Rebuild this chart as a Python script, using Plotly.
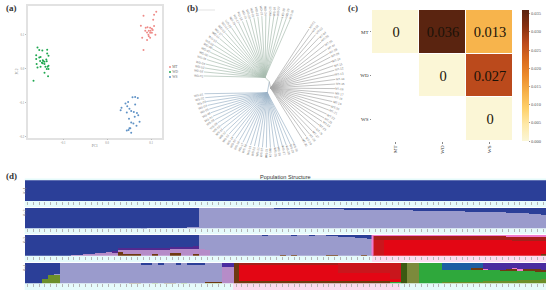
import math
import plotly.graph_objects as go

W, H = 550, 296
SERIF = "Liberation Serif"
SANS = "Liberation Sans"

# ---- panel (a): PCA
pca_groups = ["MT", "WD", "WS"]
mt_pc1 = [.083,.107,.112,.105,.077,.107,.088,.092,.098,.102,.087,.095,.099,.104,.091,.098,.102,.094,.110,.080,.095,.091,.098,.083]
mt_pc2 = [.156,.159,.168,.144,.127,.126,.121,.122,.121,.118,.112,.112,.112,.114,.107,.106,.106,.100,.100,.091,.096,.085,.091,.055]
wd_pc1 = [-.158,-.154,-.147,-.136,-.161,-.136,-.133,-.161,-.151,-.146,-.138,-.152,-.148,-.142,-.137,-.160,-.146,-.142,-.133,-.158,-.151,-.140,-.137,-.133,-.142,-.134,-.167,-.135,-.145,-.154]
wd_pc2 = [.063,.055,.054,.056,.040,.045,.038,.029,.035,.025,.027,.023,.018,.021,.022,.014,.016,.014,.009,.004,.006,.006,-.001,-.001,-.012,-.022,-.035,.006,.023,.033]
ws_pc1 = [.058,.064,.070,.048,.042,.064,.033,.046,.051,.055,.061,.068,.045,.071,.063,.050,.074,.055,.060,.067,.053,.049,.045,.055,.051,.031]
ws_pc2 = [-.084,-.083,-.086,-.098,-.102,-.105,-.115,-.110,-.118,-.124,-.127,-.130,-.129,-.137,-.141,-.147,-.156,-.158,-.161,-.168,-.175,-.180,-.182,-.188,-.175,-.122]
pca_colors = ["#ee8b88", "#1fa850", "#5f92c6"]

# ---- panel (b): tree leaf angles, degrees
wd_angles = [175.0,171.5,168.0,164.5,160.5,157.0,153.5,150.0,146.5,143.0,139.0,135.5,132.0,128.5,125.0,121.0,117.5,114.0,110.5,107.0,103.5,100.0,96.5,93.0,89.5,86.0,82.5,78.5,75.0,71.5]
mt_angles = [53,49,45.5,41.5,37.5,33.5,29.5,25.5,22,18,14,10,6,2,-2,-6,-10,-13.5,-17.5,-21.5,-25.5,-29.5,-33.5,-37,-41,-45,-49,-52.5,-56,-60]
ws_angles = [190.5,194,197.5,201,204.5,208,211.5,215,218.5,222,225.5,229,232.5,236,239.5,243,246.5,250,253.5,257,260.5,264,267.5,271,274.5,278,281.5,285,288.5,292]

# ---- panel (c): Fst
fst_labels = ["MT", "WD", "WS"]
fst_values = [[0, .036, .013], [None, 0, .027], [None, None, 0]]
fst_text = [["0", "0.036", "0.013"], ["", "0", "0.027"], ["", "", "0"]]
fst_ticks = [0, .005, .010, .015, .020, .025, .030, .035]

# ---- panel (d): structure, share of each sample
N = 90
k1_blue = [1]*N

k2_light = [0]*20 + [.003,.006,.01,.015,.02,.03,.04,.05,.07,.1] + [1]*13 + \
    [.995,.995,.99,.99,.985,.98,.98,.975,.97,.965,.96,.955,.95,.94,.93] + \
    [.92,.915,.91,.905,.9,.895,.89,.885,.88,.875,.87,.865,.86,.855,.85,.845,.84,.835,.83,.825,.82,.815,.81,.80,.79,.78,.77,.76,.74,.72,.70,.66]

k3_brown = [0]*16 + [.16,.06,.06,.06,0,0,.08,0,0,.14,.14,0,0,.08] + [0]*14 + [.02,0,.02] + [0]*5 + [.03,.03] + [0]*4 + [.03,0] + [0]*29 + [.08]
k3_mauve = [0]*8 + [.01,.03,.06,.09,.12,.15,.18,.16,.12,.2,.2,.2,.26,.26,.2,.28,.28,.18,.18,.32,.32,.26] + [.3,.28] + [0]*58
k3_deep = [0]*15 + [.08,.1,.1,.1,.1,.1,.1,.11,.11,.11,.11,.12,.12,.12,.12] + [0]*60
k3_blue_mid = [0]*11 + [.03] + [0]*4 + [.03,0,0,.03,0,0,.04,.02,.05,.07,.1,.13,.16,.2]
k3_red = [0]*60 + [0,0] + [.76]*19 + [.75,.74,.74,.73,.72,.73,.72,.71,.62]
k3_crimson = [0]*60 + [.78,.76] + [0]*28
k3_pink = [0]*60 + [.03]*20 + [.03,.04,.03,.05,.06,.05,.07,.08,.06,.05]

k4_olive = [0,0,0,.24,.4,.45] + [0]*16 + [.05] + [0]*4 + [.05] + [0]*3 + [.04,.04,.04] + [0]*38 + [.1,.1,.1,.1,.1,.1,.1,.11,.12,.12,.13,.14,.15,.16,.17,.18,.19,.2]
k4_green = [0]*63 + [.1,.1] + [0]*3 + [1]*4 + [.55,.55,.55,.58,.58,.58,.6,.55,.55,.55,.5,.5,.5,.48,.46,.44,.42,.4]
k4_brown = [0]*18 + [.03,.03] + [0]*4 + [.05,.05] + [0]*5 + [.05,.05,.05] + [0,0] + [1] + [.13]*26 + [0]*9 + [0,0,0,0,0,.06,.06,0,0,0,.05,.06,.07,0,.06,.07,.08,.08]
k4_dkgreen = [0]*65 + [1] + [0]*24
k4_olive2 = [0]*66 + [1,1] + [0]*22
k4_mauve = [0]*34 + [.8,.8] + [0]*54
k4_blue = [1,1,1,.76,.6,.52] + [0]*14 + [.05,.05,0,.05,0,0,.05,0,.06,.06,.06,0,0,0] + [0]*56
k4_red = [0]*37 + [.8]*17 + [.4]*9 + [.1,.1] + [0]*25
k4_crimson = [0]*54 + [.47]*9 + [.8,.8] + [0]*25
k4_darkred = [0]*37 + [.07]*17 + [0]*36
k4_teal = [0]*72 + [.35,.35,.35,.32,.32,.26,.24] + [0]*11
k4_pink = [0]*79 + [.06,0,0,0,0,.05,.05,0,0,0,0]
k4_deep_left = [0]*34 + [.2,.2] + [0]*54

C_BLUE, C_LIGHT = "#2b3f98", "#9a9bcc"
C_MAUVE, C_DEEP = "#b68cc8", "#53298f"
C_BROWN, C_RED, C_CRIM, C_DRED = "#6e3a12", "#e30614", "#c9161c", "#a5201b"
C_PINK, C_GREEN, C_OLIVE, C_OLIVE2 = "#f07ccf", "#2fa83c", "#6c8f2a", "#7c8a3c"
C_DKGREEN, C_TEAL, C_NAVY = "#3c5a12", "#1d5ea3", "#4a2ca0"


def xd(a, b):
    return [a / W, b / W]


def yd(top, bottom):
    return [1 - bottom / H, 1 - top / H]


fig = go.Figure()

# panel (a)
for name, px_, py_, col in zip(pca_groups, [mt_pc1, wd_pc1, ws_pc1], [mt_pc2, wd_pc2, ws_pc2], pca_colors):
    fig.add_trace(go.Scatter(x=px_, y=py_, mode="markers", name=name, xaxis="x", yaxis="y",
                             marker=dict(size=2, color=col, line_width=0), showlegend=False))
# compact legend on its own small axis
fig.add_trace(go.Scatter(x=[0, 0, 0], y=[2, 1, 0], mode="markers+text", text=pca_groups, textposition="middle right",
                         textfont=dict(size=3.5, family=SERIF, color="#666666"), marker=dict(size=2, color=pca_colors, line_width=0),
                         xaxis="x8", yaxis="y8", showlegend=False, hoverinfo="skip"))

# panel (b)
center = (0.0, 0.0)
groups = [(wd_angles, (-4.3, 4.3), "#a9bdb0", "WD"), (mt_angles, (1.3, -6.3), "#a8a8a8", "MT"), (ws_angles, (-2.0, -11.0), "#9db4c8", "WS")]
tree_annos = []
TIP, LAB = 66, 71
for angles, node, col, prefix in groups:
    xs, ys = [center[0], node[0], None], [center[1], node[1], None]
    for n, a in enumerate(angles):
        t = math.radians(a)
        xs += [node[0], TIP * math.cos(t), None]
        ys += [node[1], TIP * math.sin(t), None]
        flip = 90 < (a % 360) < 270
        tree_annos.append(dict(x=LAB * math.cos(t), y=LAB * math.sin(t), xref="x2", yref="y2", showarrow=False,
                               text=f"{prefix}-{n+1:02d}", textangle=(-a + 180) if flip else -a,
                               font=dict(size=3, family=SANS, color="#777777"), xanchor="center", yanchor="middle"))
    fig.add_trace(go.Scatter(x=xs, y=ys, mode="lines", xaxis="x2", yaxis="y2", showlegend=False,
                             line=dict(color=col, width=0.7), hoverinfo="skip"))

# panel (c)
fig.add_trace(go.Heatmap(z=fst_values, x=fst_labels, y=fst_labels, text=fst_text, texttemplate="%{text}",
                         textfont=dict(family=SERIF, size=14.5, color="#1a1208"), xaxis="x3", yaxis="y3",
                         zmin=0, zmax=.036, xgap=1, ygap=1, hoverongaps=False,
                         colorscale=[[0, "#fbf6d6"], [.125, "#fee9a8"], [.25, "#fed06a"], [.375, "#f6b048"], [.5, "#ec8a2a"], [.625, "#d96a1e"], [.75, "#bb4a1c"], [.875, "#87300f"], [1, "#5a2410"]],
                         colorbar=dict(x=522 / W, xanchor="left", y=1 - 10 / H, yanchor="top", len=131 / H, lenmode="fraction",
                                       thickness=7, xpad=0, ypad=0, outlinewidth=0, tickvals=fst_ticks,
                                       tickformat=".3f", ticks="outside", ticklen=1.5, tickcolor="#999999", tickwidth=0.5,
                                       tickfont=dict(family=SERIF, size=4.5, color="#555555"))))

# panel (d)
samples = list(range(N))


def bars(axis_n, comps):
    for vals, col in comps:
        fig.add_trace(go.Bar(x=samples, y=vals, marker=dict(color=col, line_width=0), xaxis=f"x{axis_n}", yaxis=f"y{axis_n}",
                             showlegend=False, hoverinfo="skip"))


k2_blue = [round(1 - v, 3) for v in k2_light]
k3_blue = [round(1 - k3_brown[i] - k3_mauve[i] - k3_deep[i], 3) if i < 30 else (k3_blue_mid[i - 30] if i < 60 else 0) for i in samples]
k3_light = [round(1 - k3_brown[i] - k3_mauve[i] - k3_blue[i], 3) if 30 <= i < 60 else 0 for i in samples]
k3_dred = [round(1 - k3_brown[i] - k3_red[i] - k3_crimson[i] - k3_pink[i], 3) if i >= 60 else 0 for i in samples]
k4_light = [.03 if i == 5 else (round(1 - k4_olive[i] - k4_brown[i] - k4_blue[i], 3) if 6 <= i < 34 else 0) for i in samples]
k4_navy = [round(1 - k4_olive[i] - k4_green[i] - k4_brown[i] - k4_pink[i], 3) if i >= 79 else k4_deep_left[i] for i in samples]

bars(4, [(k1_blue, C_BLUE)])
bars(5, [(k2_light, C_LIGHT), (k2_blue, C_BLUE)])
bars(6, [(k3_brown, C_BROWN), (k3_mauve, C_MAUVE), (k3_deep, C_DEEP), (k3_light, C_LIGHT), (k3_red, C_RED),
         (k3_crimson, C_CRIM), (k3_dred, C_DRED), (k3_pink, C_PINK), (k3_blue, C_BLUE)])
bars(7, [(k4_olive, C_OLIVE), (k4_green, C_GREEN), (k4_brown, C_BROWN), (k4_dkgreen, C_DKGREEN), (k4_olive2, C_OLIVE2),
         (k4_mauve, C_MAUVE), (k4_light, C_LIGHT), (k4_red, C_RED), (k4_crimson, C_CRIM), (k4_darkred, C_DRED),
         (k4_teal, C_TEAL), (k4_pink, C_PINK), (k4_blue, C_BLUE), (k4_navy, C_NAVY)])

frame = dict(showline=True, mirror=True, linecolor="#e2e2e2", linewidth=1.5, showgrid=False, zeroline=False,
             ticks="outside", ticklen=1, tickwidth=0.4, tickcolor="#bbbbbb", tickfont=dict(size=3, family=SERIF, color="#888888"))
hidden = dict(visible=False, showgrid=False, zeroline=False)
row_x = dict(range=[-.5, N - .5], showgrid=False, zeroline=False, showline=False, ticks="outside", tickvals=samples,
             ticklen=3, tickwidth=0.5, tickcolor="#b5b5b5", showticklabels=False, domain=xd(24.7, 546))
row_y = dict(range=[0, 1], showgrid=False, zeroline=False, showticklabels=False, ticks="")

rows = [(4, 180.3, 201, "K=1"), (5, 207.7, 228.3, "K=2"), (6, 235, 255.7, "K=3"), (7, 262.7, 283.3, "K=4")]

layout = dict(
    width=W, height=H, margin=dict(l=0, r=0, t=0, b=0), autosize=False, paper_bgcolor="white", plot_bgcolor="white",
    barmode="stack", bargap=0, showlegend=False,
    xaxis=dict(frame, domain=xd(27.5, 162), range=[-.1807, .125], tickvals=[-.1, 0, .1], ticktext=["-0.1", "0.0", "0.1"], anchor="y",
               title=dict(text="PC1", font=dict(size=3.5, family=SERIF, color="#777777"), standoff=1)),
    yaxis=dict(frame, domain=yd(5.5, 137.7), range=[-.2029, .1863], tickvals=[-.2, -.1, 0, .1], ticktext=["-0.2", "-0.1", "0.0", "0.1"], anchor="x",
               title=dict(text="PC2", font=dict(size=3.5, family=SERIF, color="#777777"), standoff=1)),
    xaxis2=dict(hidden, domain=xd(180, 360), range=[-89.3, 90.7], anchor="y2"),
    yaxis2=dict(hidden, domain=yd(0, 170), range=[-88.3, 81.7], anchor="x2"),
    xaxis3=dict(domain=xd(372, 513), anchor="y3", showgrid=False, zeroline=False, ticks="outside", ticklen=1.5, tickwidth=0.5, tickcolor="#888888",
                tickangle=-90, tickfont=dict(size=5, family=SERIF, color="#333333")),
    yaxis3=dict(domain=yd(10, 141), anchor="x3", autorange="reversed", showgrid=False, zeroline=False, ticks="outside", ticklen=1.5, tickwidth=0.5,
                tickcolor="#888888", tickfont=dict(size=5, family=SERIF, color="#333333")),
    xaxis8=dict(hidden, domain=xd(168, 185), range=[-.2, 1.5], anchor="y8"),
    yaxis8=dict(hidden, domain=yd(64.5, 79.5), range=[-.5, 2.5], anchor="x8"),
)

annos = list(tree_annos)
shapes = []
for n, top, bottom, lab in rows:
    layout[f"xaxis{n}"] = dict(row_x, anchor=f"y{n}")
    layout[f"yaxis{n}"] = dict(row_y, domain=yd(top, bottom), anchor=f"x{n}")
    annos.append(dict(x=21 / W, y=1 - (top + bottom) / 2 / H, xref="paper", yref="paper", text=lab, showarrow=False, textangle=-90,
                      font=dict(size=3.5, family=SANS, color="#777777")))

CYAN, PINK = "#e6fbfb", "#fbdcf0"
def strip(x0, x1, y0, y1, col):
    shapes.append(dict(type="rect", xref="paper", yref="paper", x0=x0 / W, x1=x1 / W, y0=1 - y1 / H, y1=1 - y0 / H,
                       fillcolor=col, line_width=0, layer="below"))


strip(24.7, 546, 178.5, 180.3, CYAN)
strip(24.7, 546, 201, 207, CYAN)
strip(24.7, 546, 228.3, 234, CYAN)
strip(24.7, 372, 255.7, 262, CYAN)
strip(372, 546, 255.7, 262, PINK)
strip(24.7, 233, 283.3, 290, CYAN)
strip(233, 400, 283.3, 290, PINK)
strip(400, 546, 283.3, 290, CYAN)
# pink sliver at the cluster edge of K=3, scale bar of the tree
shapes.append(dict(type="line", xref="x6", yref="y6", x0=59.55, x1=59.55, y0=0, y1=1, line=dict(color=C_PINK, width=2)))
shapes.append(dict(type="line", xref="paper", yref="paper", x0=198 / W, x1=215 / W, y0=1 - 10 / H, y1=1 - 10 / H, line=dict(color="#d0d0d0", width=0.6)))

for txt, x, y in [("(a)", 3.5, 8), ("(b)", 184.5, 8), ("(c)", 345.5, 8), ("(d)", 3.5, 176)]:
    annos.append(dict(x=x / W, y=1 - y / H, xref="paper", yref="paper", text=f"<b>{txt}</b>", showarrow=False, xanchor="left",
                      yanchor="middle", font=dict(size=9, family=SERIF, color="#333333")))
annos.append(dict(x=285.5 / W, y=1 - 176.5 / H, xref="paper", yref="paper", text="Population Structure", showarrow=False,
                  font=dict(size=5.6, family=SANS, color="#333333")))

fig.update_layout(**layout, annotations=annos, shapes=shapes)
fig.write_html("out.html", config=dict(displayModeBar=False), post_script="document.body.style.margin='0';")
